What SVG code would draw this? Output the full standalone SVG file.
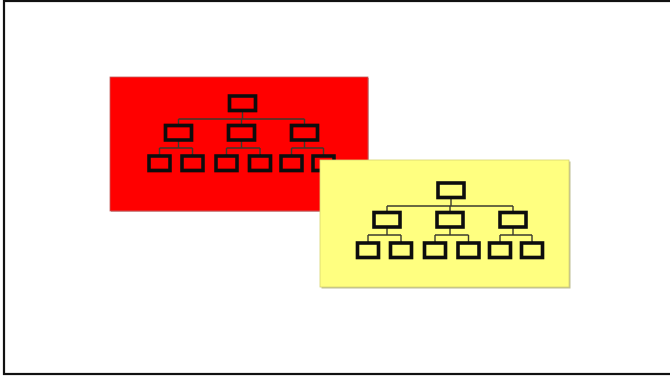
<svg xmlns="http://www.w3.org/2000/svg" xmlns:xlink="http://www.w3.org/1999/xlink" width="670" height="376" viewBox="0 0 670 376">
  <style>
    .frame { fill: #ffffff; stroke: #111111; stroke-width: 2.2; }
    .box { fill: none; stroke: #0d0d0d; stroke-width: 3.6; }
    .ln { fill: none; stroke: #3a3a2e; stroke-width: 1.4; }
  </style>
  <defs>
    <filter id="soft" x="-10%" y="-10%" width="120%" height="130%">
      <feGaussianBlur stdDeviation="0.4"/>
    </filter>
    <g id="tree" filter="url(#soft)">
      <path class="ln" d="M0,8 V16 M-64,16 H62 M-64,16 V22 M-1,16 V22 M62,16 V22
        M-64,37 V45 M-83,45 H-50 M-83,45 V52 M-50,45 V52
        M-1,37 V45 M-16,45 H17.5 M-16,45 V52 M17.5,45 V52
        M62,37 V45 M49,45 H81 M49,45 V52 M81,45 V52"/>
      <rect class="box" x="-13" y="-7" width="26" height="14.5"/>
      <rect class="box" x="-77" y="22.5" width="26" height="14.5"/>
      <rect class="box" x="-14" y="22.5" width="26" height="14.5"/>
      <rect class="box" x="49" y="22.5" width="26" height="14.5"/>
      <rect class="box" x="-93.5" y="53" width="21" height="14.5"/>
      <rect class="box" x="-60.5" y="53" width="21" height="14.5"/>
      <rect class="box" x="-26.5" y="53" width="21" height="14.5"/>
      <rect class="box" x="7" y="53" width="21" height="14.5"/>
      <rect class="box" x="38.5" y="53" width="21" height="14.5"/>
      <rect class="box" x="70.5" y="53" width="21" height="14.5"/>
    </g>
  </defs>
  <rect class="frame" x="4" y="1" width="680" height="373"/>
  <g id="connectors"></g>
  <g id="red-panel">
    <rect x="111" y="78" width="258" height="134" fill="#8a0000" opacity="0.35"/>
    <rect x="110" y="77" width="258" height="134" fill="#ff0000" stroke="#c06060" stroke-width="0.8"/>
    <use xlink:href="#tree" href="#tree" transform="translate(242.5,103)"/>
  </g>
  <g id="yellow-panel">
    <rect x="321.5" y="161.5" width="249" height="127" fill="#8a8a40" opacity="0.55"/>
    <rect x="320" y="160" width="249" height="127" fill="#ffff80" stroke="#d8d470" stroke-width="0.8"/>
    <use xlink:href="#tree" href="#tree" transform="translate(451,190)"/>
  </g>
</svg>
